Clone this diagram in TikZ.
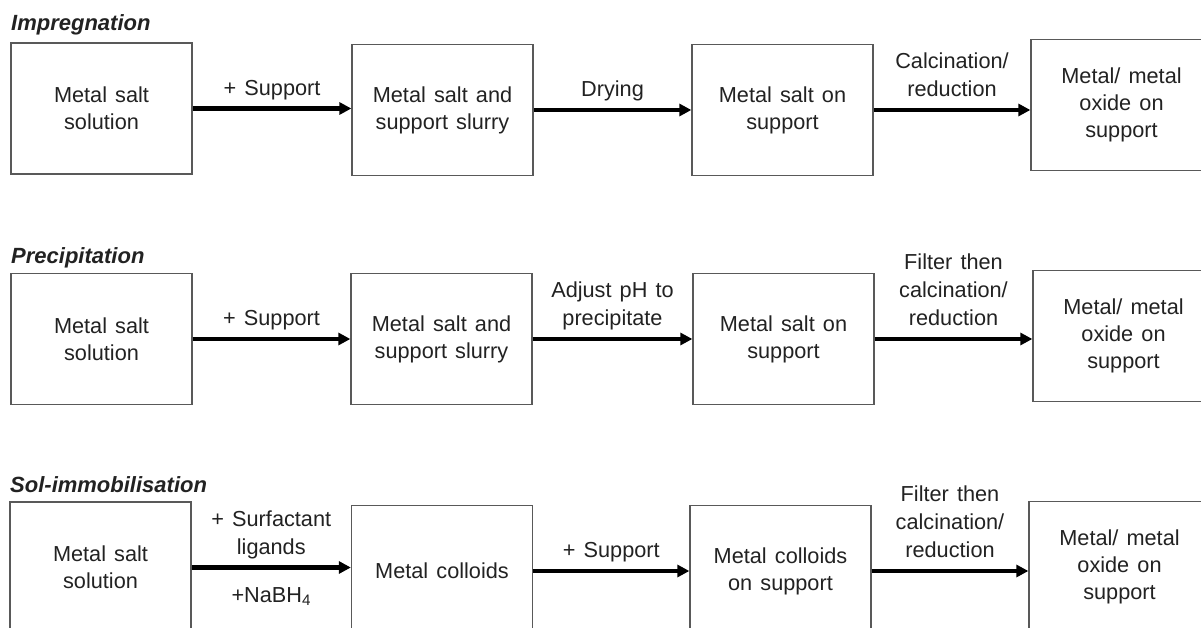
\documentclass[tikz,border=0pt]{standalone}
\usepackage{fontspec}
\setmainfont[WordSpace=1.35]{Liberation Sans}
\usetikzlibrary{arrows.meta}
\definecolor{boxgray}{HTML}{595959}
\definecolor{txt}{HTML}{222222}
\begin{document}
\begin{tikzpicture}[x=1pt,y=-1pt,
  box/.style={draw=boxgray, line width=1.3pt, minimum width=181pt, minimum height=131pt,
    inner sep=0pt, align=center, font=\fontsize{21.7}{27}\selectfont, text=txt},
  arr/.style={line width=4.2pt, -{Triangle[length=12pt,width=12pt]}},
  lab/.style={above=11pt, align=center, inner sep=0pt, text depth=0pt,
    font=\fontsize{21.7}{28}\selectfont, text=txt},
  ttl/.style={anchor=base west, inner sep=0pt, font=\fontsize{22}{26}\selectfont\bfseries\itshape, text=txt}]
\clip (0,0) rectangle (1201,628);
\fill[white] (0,0) rectangle (1201,628);
% titles
\node[ttl] (t1) at (11,31) {Impregnation};
\node[ttl] (t2) at (11,263) {Precipitation};
\node[ttl] (t3) at (10,492) {Sol-immobilisation};
% row 1
\node[box] (a1) at (101.5,108.5) {Metal salt\\solution};
\node[box] (a2) at (442.5,110) {Metal salt and\\support slurry};
\node[box] (a3) at (782.5,110) {Metal salt on\\support};
\node[box] (a4) at (1121.5,105) {Metal/ metal\\oxide on\\support};
\draw[arr] (a1.east) -- (a1.east -| a2.west) node[midway, lab] {+ Support};
\draw[arr] (a2.east) -- (a2.east -| a3.west) node[midway, lab] {Drying};
\draw[arr] (a3.east) -- (a3.east -| a4.west) node[midway, lab] {Calcination/\\reduction};
% row 2
\node[box] (b1) at (101.5,339) {Metal salt\\solution};
\node[box] (b2) at (441.5,339) {Metal salt and\\support slurry};
\node[box] (b3) at (783.5,339) {Metal salt on\\support};
\node[box] (b4) at (1123.5,336) {Metal/ metal\\oxide on\\support};
\draw[arr] (b1.east) -- (b1.east -| b2.west) node[midway, lab] {+ Support};
\draw[arr] (b2.east) -- (b2.east -| b3.west) node[midway, lab] {Adjust pH to\\precipitate};
\draw[arr] (b3.east) -- (b3.east -| b4.west) node[midway, lab] {Filter then\\calcination/\\reduction};
% row 3
\node[box] (c1) at (100.5,567.5) {Metal salt\\solution};
\node[box] (c2) at (442,571) {Metal colloids};
\node[box] (c3) at (780.5,571) {Metal colloids\\on support};
\node[box] (c4) at (1119.5,567) {Metal/ metal\\oxide on\\support};
\draw[arr] (c1.east) -- (c1.east -| c2.west)
  node[midway, lab] {+ Surfactant\\ligands}
  node[midway, anchor=base, yshift=-35pt, inner sep=0pt, font=\fontsize{21.7}{27}\selectfont, text=txt] (nab) {+NaBH\textsubscript{4}};
\draw[arr] (c2.east) -- (c2.east -| c3.west) node[midway, lab] {+ Support};
\draw[arr] (c3.east) -- (c3.east -| c4.west) node[midway, lab] {Filter then\\calcination/\\reduction};
\end{tikzpicture}
\end{document}
